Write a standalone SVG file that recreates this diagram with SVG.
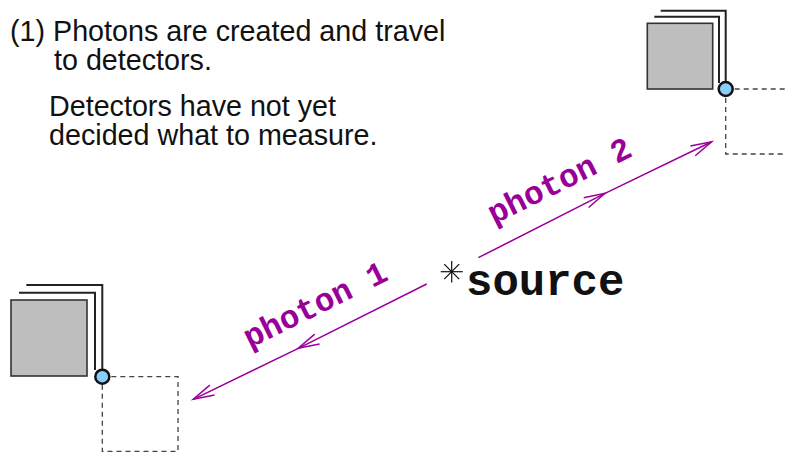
<svg xmlns="http://www.w3.org/2000/svg" width="786" height="452" viewBox="0 0 786 452">
<style>
.txt{font-family:"Liberation Sans",Arial,sans-serif;font-size:28.7px;fill:#111}
.mono{font-family:"Liberation Mono","Courier New",monospace;font-weight:bold}
.ph{fill:#990099;font-size:32.5px}
.gray{fill:#bebebe;stroke:#333;stroke-width:1.6}
.outl{fill:none;stroke:#222;stroke-width:2}
.dot{fill:#87cefa;stroke:#111;stroke-width:2.5}
.dash{fill:none;stroke:#444;stroke-width:1.3;stroke-dasharray:5,4}
.beam{fill:none;stroke:#990099;stroke-width:1.5;marker-mid:url(#ah);marker-end:url(#ah)}
</style>
<defs>
<marker id="ah" markerUnits="userSpaceOnUse" markerWidth="30" markerHeight="20" viewBox="-25 -10 30 20" refX="0" refY="0" orient="auto">
<path d="M-21,-5.5 L0,0 L-21,5.5" fill="none" stroke="#990099" stroke-width="1.5"/>
</marker>
</defs>
<g id="caption">
<text class="txt" x="10" y="40.5">(1) Photons are created and travel</text>
<text class="txt" x="54" y="70">to detectors.</text>
<text class="txt" x="49" y="116">Detectors have not yet</text>
<text class="txt" x="49" y="145">decided what to measure.</text>
</g>
<g id="detector-left">
<rect class="gray" x="11" y="300" width="76" height="76"/>
<polyline class="outl" points="19,292.7 95,292.7 95,370"/>
<polyline class="outl" points="26.3,285 102.3,285 102.3,370"/>
<path class="dash" d="M102.3,376.7 H178 V451.5 H102.3 Z"/>
<circle class="dot" cx="102.3" cy="376.7" r="7"/>
</g>
<g id="detector-right">
<rect class="gray" x="647.3" y="23.3" width="65.4" height="65.7"/>
<polyline class="outl" points="654.3,16.7 719,16.7 719,83"/>
<polyline class="outl" points="660.7,10.7 725.7,10.7 725.7,83"/>
<path class="dash" d="M725.7,89 H800 M725.7,89 V154 H800"/>
<circle class="dot" cx="725.7" cy="89" r="7"/>
</g>
<g id="source">
<g stroke="#111" stroke-width="1.2">
<line x1="440.7" y1="271.7" x2="462.7" y2="271.7"/>
<line x1="451.7" y1="261" x2="451.7" y2="282.4"/>
<line x1="444.2" y1="264.2" x2="459.2" y2="279.2"/>
<line x1="444.2" y1="279.2" x2="459.2" y2="264.2"/>
</g>
<text class="mono" x="466" y="295" font-size="44" fill="#111">source</text>
</g>
<g id="connectors">
<polyline class="beam" points="478.3,257.7 605,193.3 711.7,141.7"/>
<polyline class="beam" points="426.7,284 298.3,348.3 193.3,399.3"/>
</g>
<g id="labels">
<text class="mono ph" text-anchor="middle" transform="translate(564,190) rotate(-26.3)">photon 2</text>
<text class="mono ph" text-anchor="middle" transform="translate(319.8,314) rotate(-26.3)">photon 1</text>
</g>
</svg>
